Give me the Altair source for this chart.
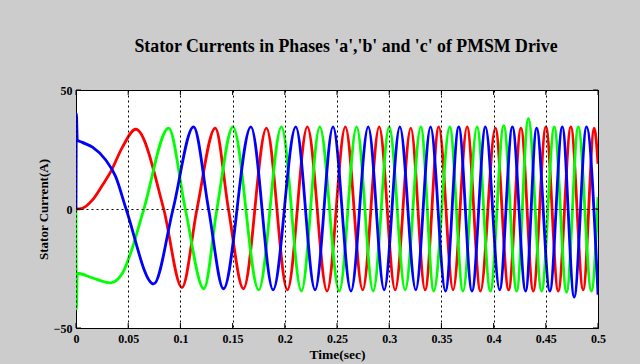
import altair as alt
import pandas as pd

title_text = "Stator Currents in Phases 'a','b' and 'c'  of PMSM Drive"
x_title = "Time(sec)"
y_title = "Stator Current(A)"
x_ticks = [0, 0.05, 0.1, 0.15, 0.2, 0.25, 0.3, 0.35, 0.4, 0.45, 0.5]
y_ticks = [-50, 0, 50]

phase_names = ["a", "b", "c"]
phase_colors = ["#ff0000", "#00ff00", "#0000ff"]

# phase a (red): turning points / crossings
red_t = [0, 0.006, 0.0158, 0.0253, 0.0333, 0.0445, 0.0572, 0.084, 0.1015, 0.1159,
         0.1334, 0.146, 0.1604, 0.1824, 0.2025, 0.2216, 0.2405, 0.258, 0.2746, 0.2904,
         0.3057, 0.3207, 0.3344, 0.3475, 0.3612, 0.3746, 0.3874, 0.4017, 0.4144, 0.4262,
         0.438, 0.4501, 0.4619, 0.474, 0.4858, 0.4964, 0.5]
red_i = [0, 0.3, 3.8, 10, 15.7, 26, 33.5, 0, -33, 0,
         34, 0, -33.5, 34, -34, 34.5, -34.5, 34.5, -34, 34.5,
         -34, 34, -34, 34.5, -34, 34.5, -34.5, 34, -34, 34,
         -34.5, 34.5, -34.5, 34.5, -34, 34, 19]

# phase b (green)
green_t = [0, 0.0004, 0.0012, 0.016, 0.033, 0.0445, 0.0523, 0.065, 0.0887, 0.1047,
           0.1225, 0.135, 0.1503, 0.175, 0.1968, 0.2159, 0.2335, 0.2522, 0.2688, 0.2847,
           0.300, 0.3153, 0.3303, 0.3427, 0.358, 0.3707, 0.3841, 0.3969, 0.4097, 0.4221,
           0.4333, 0.446, 0.4581, 0.4699, 0.4811, 0.4937, 0.5]
green_i = [0, -42, -27, -29, -31, -27, -18.6, 0, 34, 0,
           -33.5, 0, 34.5, -34, 34.5, -34.5, 34.5, -34.5, 34.5, -34.5,
           34.5, -34, 34.5, -34.5, 34.5, -34.5, 34.5, -34.5, 35, -34.5,
           38, -34.5, 34.5, -35, 34.5, -34.5, 5]

# phase c (blue)
blue_t = [0, 0.0004, 0.0012, 0.006, 0.0158, 0.0285, 0.038, 0.048, 0.0744, 0.093,
          0.1126, 0.127, 0.1413, 0.1675, 0.1888, 0.2105, 0.229, 0.2462, 0.2634, 0.2799,
          0.2952, 0.3102, 0.3255, 0.3396, 0.3539, 0.3666, 0.3793, 0.3922, 0.4058, 0.418,
          0.4307, 0.4412, 0.4539, 0.4658, 0.4772, 0.489, 0.5]
blue_i = [0, 40, 29, 28, 26, 20.6, 13.6, 0, -31.5, 0,
          34.5, 0, -33.5, 34.5, -34, 34.5, -34, 34.5, -34.5, 34.5,
          -34, 34.5, -34, 34.5, -34.5, 34.5, -34.5, 34.5, -34, 34.5,
          -34.5, 34, -34.5, 34.5, -37, 34.5, -36]

rows = []
for name, ts, vs in [("a", red_t, red_i), ("b", green_t, green_i), ("c", blue_t, blue_i)]:
    for t, v in zip(ts, vs):
        rows.append({"time": t, "current": v, "phase": name})
df = pd.DataFrame(rows)

W, H = 522, 238
FONT = "Liberation Serif"

xscale = alt.Scale(domain=[0, 0.5], nice=False, zero=False)
yscale = alt.Scale(domain=[-50, 50], nice=False, zero=False)

x_axis = alt.Axis(values=x_ticks, format="~g", title=x_title, ticks=False, domain=False,
                  grid=True, gridDash=[2, 3], gridColor="black", gridOpacity=1, gridWidth=1,
                  labelFont=FONT, labelFontWeight="bold", labelFontSize=12, labelColor="black",
                  labelPadding=5, labelFlush=False,
                  titleFont=FONT, titleFontWeight="bold", titleFontSize=13.5, titleColor="black",
                  titlePadding=3, zindex=1)
y_axis = alt.Axis(values=y_ticks, format="~g", title=y_title, ticks=False, domain=False,
                  grid=True, gridDash=[2, 3], gridColor="black", gridOpacity=1, gridWidth=1,
                  labelFont=FONT, labelFontWeight="bold", labelFontSize=12, labelColor="black",
                  labelPadding=4, labelFlush=False,
                  titleFont=FONT, titleFontWeight="bold", titleFontSize=13, titleColor="black",
                  titlePadding=3, zindex=1)

lines = alt.Chart(df).mark_line(interpolate="monotone", strokeWidth=2.8, clip=True).encode(
    x=alt.X("time:Q", scale=xscale, axis=x_axis),
    y=alt.Y("current:Q", scale=yscale, axis=y_axis),
    color=alt.Color("phase:N", scale=alt.Scale(domain=phase_names, range=phase_colors), legend=None),
)

xt_df = pd.DataFrame({"time": x_ticks})
yt_df = pd.DataFrame({"current": y_ticks})

tick_bot = alt.Chart(xt_df).mark_rule(color="black", strokeWidth=1).encode(
    x=alt.X("time:Q", scale=xscale, axis=x_axis), y=alt.value(H), y2=alt.value(H - 5))
tick_top = alt.Chart(xt_df).mark_rule(color="black", strokeWidth=1).encode(
    x=alt.X("time:Q", scale=xscale, axis=x_axis), y=alt.value(0), y2=alt.value(5))
tick_left = alt.Chart(yt_df).mark_rule(color="black", strokeWidth=1).encode(
    y=alt.Y("current:Q", scale=yscale, axis=y_axis), x=alt.value(0), x2=alt.value(5))
tick_right = alt.Chart(yt_df).mark_rule(color="black", strokeWidth=1).encode(
    y=alt.Y("current:Q", scale=yscale, axis=y_axis), x=alt.value(W), x2=alt.value(W - 5))

chart = alt.layer(lines, tick_bot, tick_top, tick_left, tick_right).properties(
    width=W, height=H,
    title=alt.TitleParams(text=title_text, font=FONT, fontSize=17.8, fontWeight="bold",
                          color="black", anchor="middle", baseline="alphabetic",
                          offset=14, dx=9),
).configure(
    background="#cccccc",
    padding={"left": 76, "top": 90, "right": 42, "bottom": 36},
    autosize=alt.AutoSizeParams(type="none"),
).configure_view(fill="white", stroke="black", strokeWidth=1)

chart.save("out.html", embed_options={"renderer": "svg", "actions": False})
